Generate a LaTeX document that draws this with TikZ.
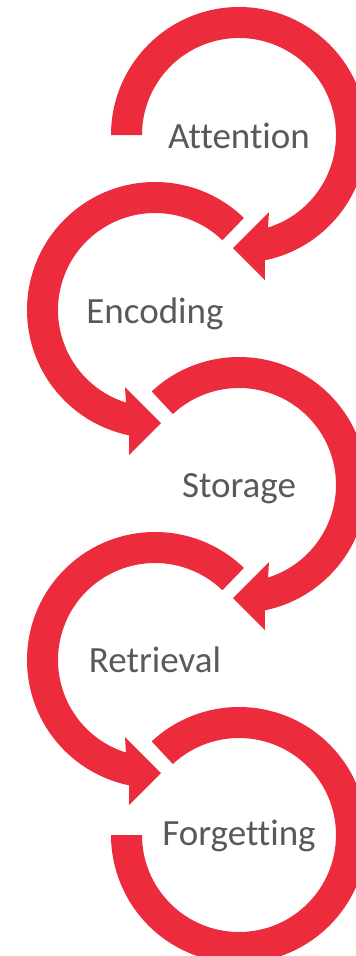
\documentclass[tikz,border=0pt]{standalone}
\usepackage{fontspec}
\setmainfont{Carlito}[Ligatures={NoCommon,NoContextual}]
\definecolor{arrowred}{HTML}{EC2B3D}
\definecolor{labelgray}{HTML}{595959}
\begin{document}
\begin{tikzpicture}[x=1pt,y=1pt,
  band/.style={fill=arrowred, draw=none},
  steplabel/.style={font=\fontsize{37}{41}\selectfont, text=labelgray, anchor=base, inner sep=0pt},
  pics/rightarrow/.style={code={
    \fill[band] (#1:128) arc[start angle=#1, end angle=-78.3, radius=128]
      -- (26,-145) -- (-6,-113) -- (30,-77) -- (-72.6:97)
      arc[start angle=-72.6, end angle=#1, radius=97] -- cycle;}},
  pics/leftarrow/.style={code={
    \fill[band] (#1:128) arc[start angle=#1, end angle=258.3, radius=128]
      -- (-26,-145) -- (6,-113) -- (-30,-77) -- (252.6:97)
      arc[start angle=252.6, end angle=#1, radius=97] -- cycle;}}]
\clip (0,0) rectangle (356,-956);
\coordinate (cA) at (239,-135);
\coordinate (cE) at (155,-310);
\coordinate (cS) at (239,-485);
\coordinate (cR) at (155,-660);
\coordinate (cF) at (239,-835);
\pic at (cA) {rightarrow=180};
\pic at (cE) {leftarrow=46};
\pic at (cS) {rightarrow=133};
\pic at (cR) {leftarrow=46};
\begin{scope}[shift={(cF)}]
  \fill[band] (133:128) arc[start angle=133, end angle=-180, radius=128]
    -- (-180:97) arc[start angle=-180, end angle=133, radius=97] -- cycle;
\end{scope}
\node[steplabel] (tA) at ([yshift=-13pt]cA) {Attention};
\node[steplabel] (tE) at ([yshift=-13pt]cE) {Encoding};
\node[steplabel] (tS) at ([yshift=-12pt]cS) {Storage};
\node[steplabel] (tR) at ([yshift=-12pt]cR) {Retrieval};
\node[steplabel] (tF) at ([yshift=-10pt]cF) {Forgetting};
\end{tikzpicture}
\end{document}
